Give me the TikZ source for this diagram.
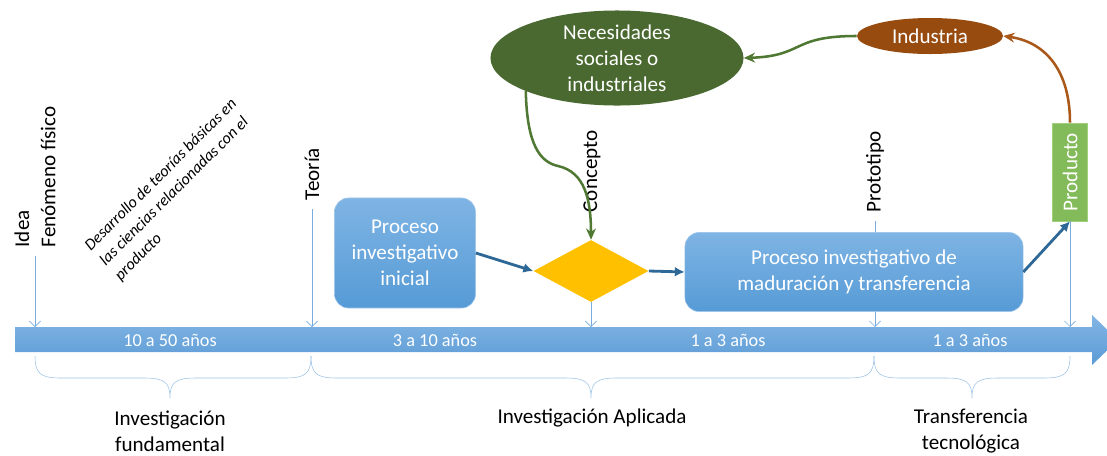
\documentclass[tikz,border=0pt]{standalone}
\usepackage{fontspec}
\setmainfont{Carlito}
\usepackage{tikz}
\usetikzlibrary{shapes,arrows,positioning,calc,arrows.meta}

\definecolor{bandtop}{RGB}{131,181,228}
\definecolor{bandbot}{RGB}{91,155,213}
\definecolor{boxtop}{RGB}{127,180,228}
\definecolor{boxbot}{RGB}{86,155,214}
\definecolor{boxline}{RGB}{160,198,234}
\definecolor{tickblue}{RGB}{120,172,222}
\definecolor{linkblue}{RGB}{46,104,150}
\definecolor{rombofill}{RGB}{255,192,0}
\definecolor{necgreen}{RGB}{74,105,48}
\definecolor{arrowgreen}{RGB}{79,120,50}
\definecolor{indbrown}{RGB}{152,75,15}
\definecolor{brownarrow}{RGB}{170,88,25}
\definecolor{prodgreen}{RGB}{131,187,90}
\definecolor{prodline}{RGB}{160,208,125}
\definecolor{bracecol}{RGB}{157,195,230}

\begin{document}
\begin{tikzpicture}[x=0.025cm, y=0.025cm, >=latex,
    box/.style={draw=boxline, thin, rounded corners=0.35cm, top color=boxtop, bottom color=boxbot,
        text=white, align=center, font=\fontsize{15}{18.5}\selectfont},
    lbl/.style={rotate=90, anchor=west, inner sep=1pt, font=\fontsize{15}{18.5}\selectfont},
    tick/.style={draw=tickblue, thin, shorten <=5pt, -{Straight Barb[length=4pt,width=8pt]}},
    link/.style={draw=linkblue, line width=2pt, -{Latex[length=7pt,width=7pt]}},
    needs/.style={draw=arrowgreen, line width=1.8pt, -{Stealth[length=8pt,width=7pt]}},
    sells/.style={draw=brownarrow, line width=1.8pt, -{Stealth[length=8pt,width=7pt]}},
    yrs/.style={text=white, font=\fontsize{13}{15}\selectfont},
    brc/.style={draw=bracecol, thin},
    phase/.style={align=center, font=\fontsize{15}{18.5}\selectfont}]
    \useasboundingbox (0,0) rectangle (1107,-455);

    % time line
    \shade[top color=bandtop, bottom color=bandbot] (15,-327) -- (1092,-327) -- (1092,-315)
        -- (1118,-340) -- (1092,-365) -- (1092,-352) -- (15,-352) -- cycle;
    \coordinate (bandtop) at (0,-327);
    \node[yrs] (y1) at (170,-340) {10 a 50 años};
    \node[yrs] (y2) at (435,-340) {3 a 10 años};
    \node[yrs] (y3) at (728,-340) {1 a 3 años};
    \node[yrs] (y4) at (970,-340) {1 a 3 años};

    % milestones
    \node[lbl, align=left] (idea) at (35,-249) {Idea\\Fenómeno físico};
    \node[lbl] (teoria) at (312,-202) {Teoría};
    \node[lbl] (concepto) at (592,-214) {Concepto};
    \node[lbl] (prototipo) at (875,-214) {Prototipo};
    \node[rotate=45, align=left, inner sep=0pt, font=\itshape\fontsize{11.5}{15}\selectfont] (desarrollo)
        at (176,-190) {Desarrollo de teorías básicas en\\las ciencias relacionadas con el\\producto};

    \draw[tick] (idea.west) -- (idea.west |- bandtop);
    \draw[tick] (teoria.west) -- (teoria.west |- bandtop);
    \draw[tick] (prototipo.west) -- (prototipo.west |- bandtop);

    % process
    \node[box, minimum width=3.525cm, minimum height=2.75cm] (inicial) at (405,-253) {Proceso\\investigativo\\inicial};
    \node[diamond, fill=rombofill, minimum width=2.875cm, minimum height=1.55cm, inner sep=0pt] (rombo) at (591,-271) {};
    \node[box, minimum width=8.45cm, minimum height=1.975cm] (madura) at (854,-272) {Proceso investigativo de\\maduración y transferencia};
    \node[draw=prodline, fill=prodgreen, rotate=90, minimum width=2.45cm, minimum height=0.875cm, inner sep=0pt,
        text=white, font=\fontsize{15}{18}\selectfont] (producto) at (1070,-172) {Producto};
    \node[ellipse, fill=indbrown, minimum width=3.65cm, minimum height=0.9cm, inner sep=0pt,
        text=white, font=\fontsize{15}{18}\selectfont] (industria) at (930,-36) {Industria};
    \node[ellipse, fill=necgreen, minimum width=6.325cm, minimum height=2.375cm, inner sep=0pt,
        text=white, align=center, font=\fontsize{15}{18.5}\selectfont] (necesidades) at (617,-58) {Necesidades\\sociales o\\industriales};

    \draw[tick, shorten <=0pt] (rombo.south) -- (rombo.south |- bandtop);
    \draw[tick, shorten <=0pt] (producto.west) -- (producto.west |- bandtop);

    \draw[link] (inicial.east) -- (rombo.west);
    \draw[link] (rombo.east) -- (madura.west);
    \draw[link] (madura.east) -- (producto.west);
    \draw[needs] (necesidades.200) .. controls (527,-145) and (540,-162) .. (558,-166)
        .. controls (585,-172) and (591,-200) .. (rombo.north);
    \draw[needs] (industria.west) .. controls (790,-36) and (805,-56) .. (necesidades.east);
    \draw[sells] (producto.east) .. controls (1070,-70) and (1045,-42) .. (industria.east);

    % phases
    \foreach \a/\b/\c in {35/170/311, 311/591/874, 874/972/1070}
        \draw[brc] (\a,-356) .. controls (\a,-374) and (\a+6,-378) .. (\a+26,-378) -- (\b-26,-378)
            .. controls (\b-6,-378) and (\b,-382) .. (\b,-398) .. controls (\b,-382) and (\b+6,-378) .. (\b+26,-378)
            -- (\c-26,-378) .. controls (\c-6,-378) and (\c,-374) .. (\c,-356);
    \node[phase] (fundamental) at (170,-431) {Investigación\\fundamental};
    \node[phase] (aplicada) at (592,-418) {Investigación Aplicada};
    \node[phase] (transferencia) at (971,-431) {Transferencia\\tecnológica};
\end{tikzpicture}
\end{document}
